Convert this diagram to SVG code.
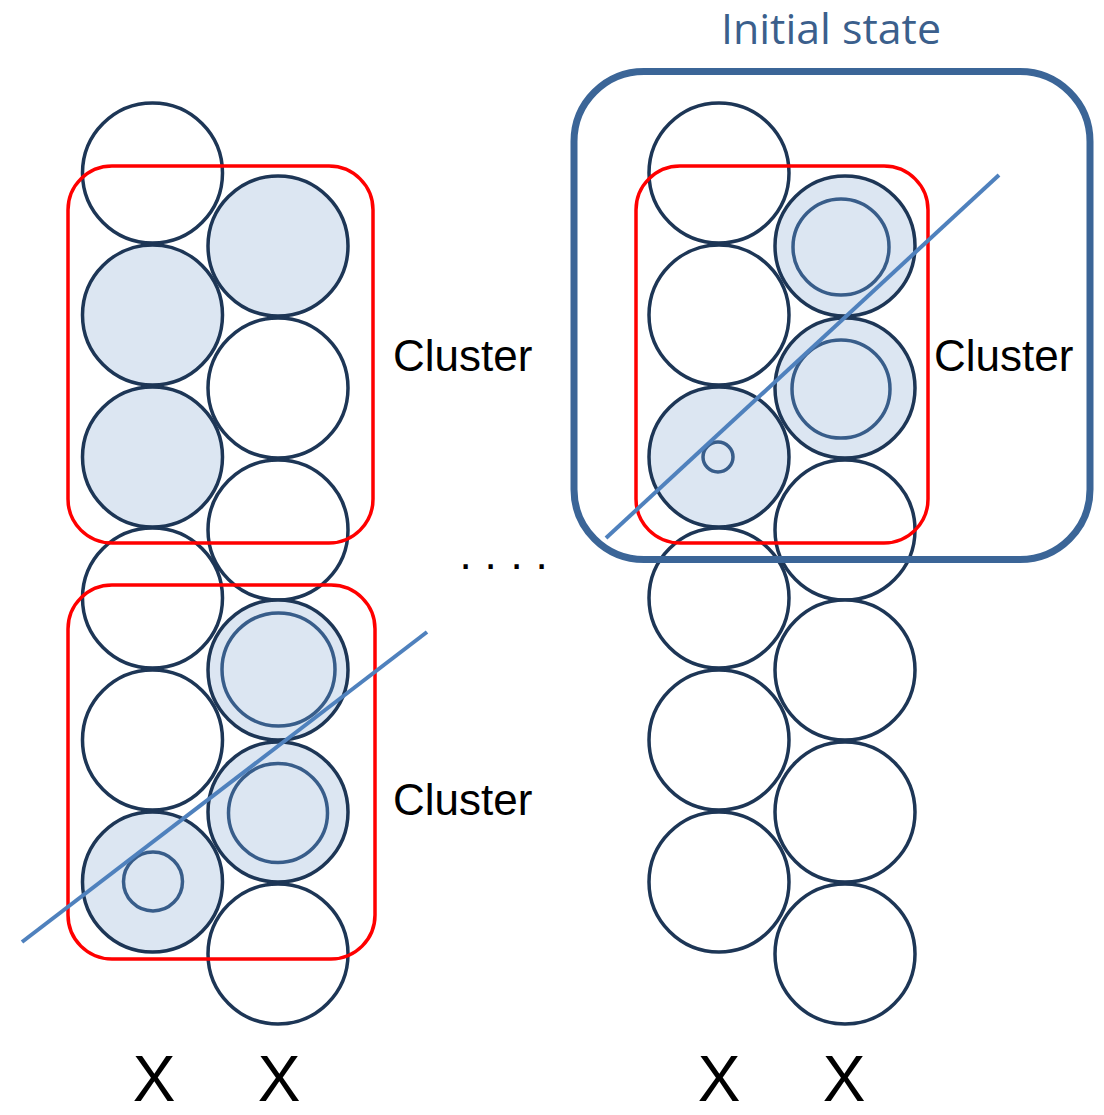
<svg xmlns="http://www.w3.org/2000/svg" width="1104" height="1115" viewBox="0 0 1104 1115">
  <style>
    .c { fill: #ffffff; stroke: #1d3656; stroke-width: 3.5; }
    .c.on { fill: #dce6f2; }
    .inner { fill: none; stroke: #385d8a; stroke-width: 3.5; }
    .cluster { fill: none; stroke: #ff0000; stroke-width: 3.5; }
    .fit { stroke: #4f81bd; stroke-width: 4; stroke-linecap: butt; }
    .state { fill: none; stroke: #3b6597; stroke-width: 7; }
    .lbl { font-family: "Liberation Sans", Arial, sans-serif; font-size: 44px; fill: #000000; }
    .x { font-family: "Liberation Sans", Arial, sans-serif; font-size: 64px; fill: #000000; text-anchor: middle; }
    .title { font-family: "Open Sans", "Noto Sans", sans-serif; font-size: 42px; fill: #3b5f8c; }
  </style>

  <!-- Left stack: two columns of six cells -->
  <g id="left-stack">
    <circle class="c" cx="152.5" cy="173" r="70"/>
    <circle class="c on" cx="152.5" cy="315" r="70"/>
    <circle class="c on" cx="152.5" cy="457" r="70"/>
    <circle class="c" cx="152.5" cy="598" r="70"/>
    <circle class="c" cx="152.5" cy="740" r="70"/>
    <circle class="c on" cx="152.5" cy="882" r="70"/>
    <circle class="c on" cx="278" cy="246" r="70"/>
    <circle class="c" cx="278" cy="388" r="70"/>
    <circle class="c" cx="278" cy="530" r="70"/>
    <circle class="c on" cx="278" cy="670" r="70"/>
    <circle class="c on" cx="278" cy="812" r="70"/>
    <circle class="c" cx="278" cy="954" r="70"/>
    <circle class="inner" cx="278.5" cy="669.5" r="56.5"/>
    <circle class="inner" cx="278" cy="813" r="49.5"/>
    <circle class="inner" cx="153" cy="881.5" r="29.5"/>
  </g>

  <!-- Right stack: same layout -->
  <g id="right-stack">
    <circle class="c" cx="719" cy="173" r="70"/>
    <circle class="c" cx="719" cy="315" r="70"/>
    <circle class="c on" cx="719" cy="457" r="70"/>
    <circle class="c" cx="719" cy="598" r="70"/>
    <circle class="c" cx="719" cy="740" r="70"/>
    <circle class="c" cx="719" cy="882" r="70"/>
    <circle class="c on" cx="845" cy="246" r="70"/>
    <circle class="c on" cx="845" cy="388" r="70"/>
    <circle class="c" cx="845" cy="530" r="70"/>
    <circle class="c" cx="845" cy="670" r="70"/>
    <circle class="c" cx="845" cy="812" r="70"/>
    <circle class="c" cx="845" cy="954" r="70"/>
    <circle class="inner" cx="841" cy="247" r="48"/>
    <circle class="inner" cx="841" cy="389" r="49"/>
    <circle class="inner" cx="718" cy="457" r="15"/>
  </g>

  <!-- Cluster boxes -->
  <g id="cluster-top-left">
    <rect class="cluster" x="68" y="166" width="305" height="377" rx="44"/>
    <text class="lbl" x="393" y="371">Cluster</text>
  </g>
  <g id="cluster-bottom-left">
    <rect class="cluster" x="68" y="585" width="307" height="374" rx="44"/>
    <text class="lbl" x="393" y="815">Cluster</text>
  </g>
  <g id="cluster-right">
    <rect class="cluster" x="636" y="166" width="292" height="377" rx="44"/>
    <text class="lbl" x="934" y="371">Cluster</text>
  </g>

  <!-- Fitted lines through the marked cells -->
  <g id="fit-lines">
    <line class="fit" x1="22" y1="942" x2="427" y2="632"/>
    <line class="fit" x1="606" y1="538" x2="999" y2="175"/>
  </g>

  <!-- Initial state frame -->
  <g id="initial-state">
    <rect class="state" x="574" y="71.5" width="516" height="488" rx="70"/>
    <text class="title" x="721" y="44" textLength="220" lengthAdjust="spacingAndGlyphs">Initial state</text>
  </g>

  <!-- Ellipsis between stacks -->
  <g id="ellipsis">
    <text class="lbl" font-size="24" x="459.5 484.5 510.5 535.5" y="569">....</text>
  </g>

  <!-- Column labels -->
  <g id="column-labels">
    <text class="x" x="154" y="1101">X</text>
    <text class="x" x="279" y="1101">X</text>
    <text class="x" x="719" y="1101">X</text>
    <text class="x" x="844" y="1101">X</text>
  </g>
</svg>
